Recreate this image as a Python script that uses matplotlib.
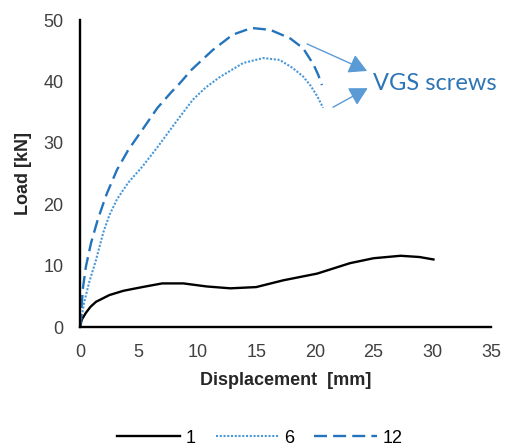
import matplotlib.pyplot as plt

plt.rcParams['font.family'] = ['Liberation Sans', 'DejaVu Sans']

# Данные
x1 = [0, 0.15, 0.5, 0.9, 1.36, 2.5, 3.7, 5.3, 7.0, 8.8, 10.8, 12.8, 15.0,
      17.3, 20.2, 23.0, 25.0, 27.3, 28.9, 30.1]
y1 = [0, 1.2, 2.3, 3.3, 4.1, 5.2, 5.9, 6.5, 7.1, 7.1, 6.6, 6.3, 6.5,
      7.6, 8.7, 10.4, 11.2, 11.6, 11.4, 11.0]

x6 = [0, 0.34, 0.77, 1.36, 2.0, 2.5, 3.15, 4.1, 5.3, 6.6, 8.1, 9.6, 10.7, 11.9,
      13.9, 15.6, 17.0, 18.1, 19.0, 19.6, 20.2, 20.7]
y6 = [0, 3.9, 7.2, 10.9, 15.5, 18.2, 20.8, 23.5, 26.1, 29.3, 33.2, 37.0, 39.0, 40.7,
      43.0, 43.8, 43.5, 42.2, 40.8, 39.4, 37.6, 35.7]

x12 = [0, 0.26, 0.5, 0.94, 1.5, 2.0, 2.3, 3.15, 4.1, 5.3, 6.6, 7.8, 8.5, 9.5, 11.3,
       13.0, 14.6, 16.2, 17.9, 19.0, 19.9, 20.3, 20.6]
y12 = [0, 6.5, 9.8, 13.7, 17.4, 20.2, 21.8, 25.6, 28.8, 32.1, 35.7, 38.3, 39.7, 41.9, 45.1,
       47.6, 48.7, 48.4, 47.0, 45.4, 42.7, 41.0, 39.4]

labels = ['1', '6', '12']


def plot_graph():
    fig = plt.figure(figsize=(5.05, 4.48), dpi=100)
    ax = fig.add_axes([80 / 505, 1 - 327 / 448, 411 / 505, 307 / 448])

    ax.plot(x1, y1, color='black', linewidth=1.7, label=labels[0], solid_joinstyle='round')
    ax.plot(x6, y6, color='#4a98d8', linewidth=1.5, linestyle=(0, (1, 0.8)), label=labels[1])
    ax.plot(x12, y12, color='#2374bd', linewidth=1.7, linestyle=(0, (5.5, 2.6)), label=labels[2])

    ax.set_xlim(0, 35)
    ax.set_ylim(0, 50)
    ax.set_xticks(range(0, 36, 5))
    ax.set_yticks(range(0, 51, 10))
    ax.tick_params(length=0, labelsize=13, colors='#404040')
    ax.tick_params(axis='x', pad=12)
    ax.tick_params(axis='y', pad=12)
    for s in ['top', 'right']:
        ax.spines[s].set_visible(False)
    for s in ['left', 'bottom']:
        ax.spines[s].set_linewidth(1.7)

    ax.set_xlabel('Displacement  [mm]', fontsize=13, fontweight='bold', color='#262626', labelpad=8)
    ax.set_ylabel('Load [kN]', fontsize=13, fontweight='bold', color='#262626', labelpad=8)

    # Подпись со стрелками
    arrow = dict(arrowstyle='-|>,head_length=0.55,head_width=0.3', color='#5b9bd5', lw=1.0,
                 mutation_scale=20, shrinkA=0, shrinkB=0)
    ax.annotate('', xy=(24.45, 41.7), xytext=(19.34, 46.1), arrowprops=arrow, annotation_clip=False)
    ax.annotate('', xy=(24.5, 38.9), xytext=(21.55, 35.8), arrowprops=arrow, annotation_clip=False)
    ax.text(24.96, 39.7, 'VGS screws', fontsize=17, color='#2e75b6', va='center', ha='left',
            family=['Lato', 'DejaVu Sans'], clip_on=False)

    fig.legend(loc='center', bbox_to_anchor=(260 / 505, 1 - 438 / 448), ncol=3, frameon=False,
               fontsize=13, handlelength=3.5, columnspacing=1.1, handletextpad=0.3)

    fig.savefig('out.png', dpi=100)


def main():
    plot_graph()


if __name__ == '__main__':
    main()
